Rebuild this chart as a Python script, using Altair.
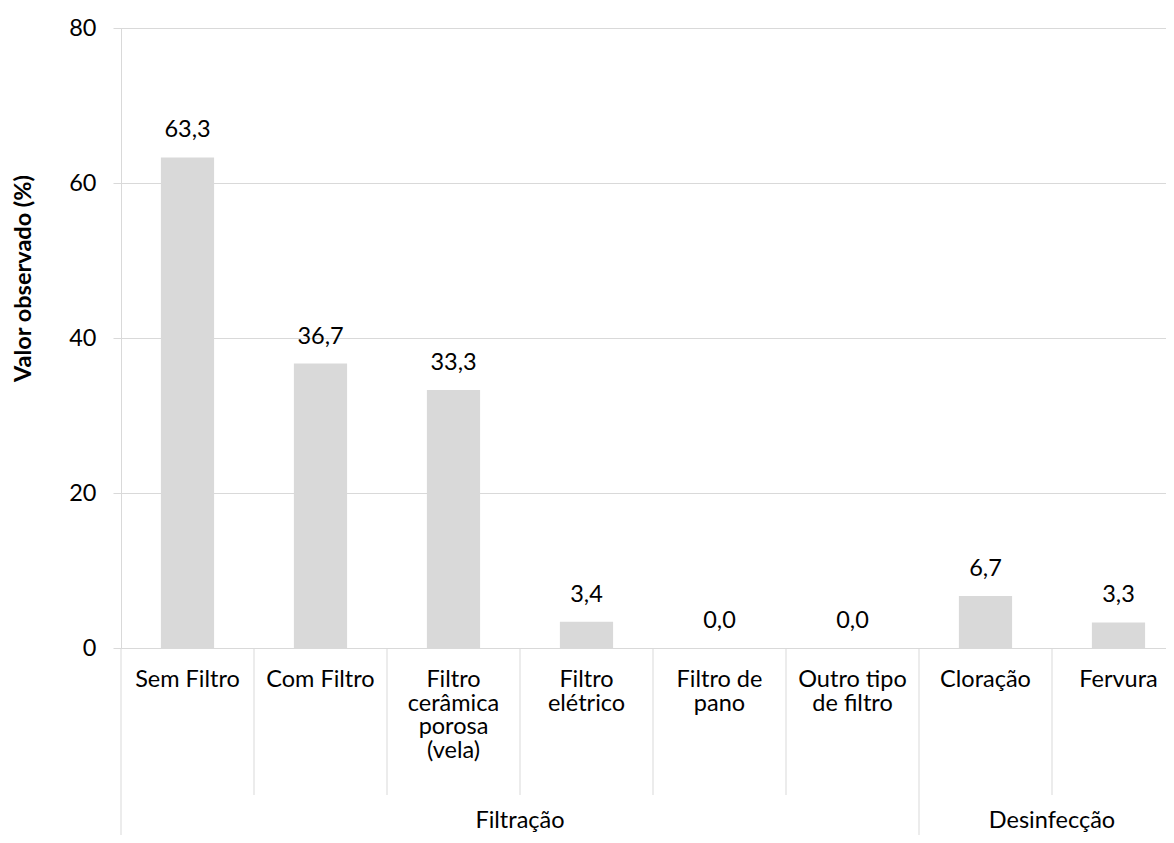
import altair as alt
import pandas as pd

# ---- data ----
categories = [
    "Sem Filtro",
    "Com Filtro",
    "Filtro\ncerâmica\nporosa\n(vela)",
    "Filtro\nelétrico",
    "Filtro de\npano",
    "Outro tipo\nde filtro",
    "Cloração",
    "Fervura",
]
values = [63.3, 36.7, 33.3, 3.4, 0.0, 0.0, 6.7, 3.3]
groups = ["Filtração"] * 6 + ["Desinfecção"] * 2
y_ticks = [0, 20, 40, 60, 80]

FONT = "Lato"
FS = 23.5
GRID = "#d9d9d9"
TXT = "#000000"
N = len(categories)

df = pd.DataFrame({"cat": categories, "val": values, "idx": list(range(N))})

# separators between categories (within groups short, group boundaries long)
boundaries = [0] + [i for i in range(1, N) if groups[i] != groups[i - 1]] + [N]
short_pos = [i for i in range(1, N) if i not in boundaries]
df_short = pd.DataFrame({"pos": short_pos})
df_long = pd.DataFrame({"pos": boundaries})

grp_names, grp_mid = [], []
for a, b in zip(boundaries[:-1], boundaries[1:]):
    grp_names.append(groups[a])
    grp_mid.append((a + b) / 2)
df_grp = pd.DataFrame({"grp": grp_names, "mid": grp_mid})

band = alt.Scale(paddingInner=0.6, paddingOuter=0.3)
quant = alt.Scale(domain=[0, N], nice=False, zero=False)
xcat = alt.X("cat:N", sort=categories, scale=band, axis=None)

yaxis = alt.Axis(
    values=y_ticks,
    grid=True,
    gridColor=GRID,
    gridWidth=1,
    tickColor=GRID,
    tickSize=8,
    domainColor=GRID,
    labelFont=FONT,
    labelFontSize=FS,
    labelColor=TXT,
    labelPadding=17,
    title="Valor observado (%)",
    titleFont=FONT,
    titleFontSize=FS,
    titleFontWeight="bold",
    titleColor=TXT,
    titleAngle=270,
    titleAlign="center",
    titleBaseline="middle",
    titleX=-98,
    titleY=250,
)
yenc = alt.Y("val:Q", scale=alt.Scale(domain=[0, 80], nice=False), axis=yaxis)

bars = alt.Chart(df).mark_bar(color=GRID).encode(x=xcat, y=yenc)

vlabels = (
    alt.Chart(df)
    .transform_calculate(lab="replace(format(datum.val, '.1f'), '.', ',')")
    .mark_text(font=FONT, fontSize=FS, color=TXT, baseline="alphabetic", dy=-20)
    .encode(x=xcat, y=alt.Y("val:Q"), text="lab:N")
)

catlabels = (
    alt.Chart(df)
    .mark_text(font=FONT, fontSize=FS, color=TXT, baseline="top",
               lineBreak="\n", lineHeight=23.5, align="center")
    .encode(x=xcat, y=alt.value(640), text="cat:N")
)

short_rules = (
    alt.Chart(df_short)
    .mark_rule(color=GRID, strokeWidth=1)
    .encode(x=alt.X("pos:Q", scale=quant, axis=None), y=alt.value(620), y2=alt.value(767))
)

long_rules = (
    alt.Chart(df_long)
    .mark_rule(color=GRID, strokeWidth=1)
    .encode(x=alt.X("pos:Q", scale=quant, axis=None), y=alt.value(620), y2=alt.value(807))
)

grplabels = (
    alt.Chart(df_grp)
    .mark_text(font=FONT, fontSize=FS, color=TXT, baseline="alphabetic", align="center")
    .encode(x=alt.X("mid:Q", scale=quant, axis=None), y=alt.value(800), text="grp:N")
)

chart = (
    alt.layer(bars, vlabels, catlabels, short_rules, long_rules, grplabels)
    .resolve_scale(x="independent")
    .properties(
        width=1064,
        height=620,
        autosize=alt.AutoSizeParams(type="none"),
        padding={"left": 113, "top": 20, "right": -19, "bottom": 187},
    )
    .configure_view(stroke=None)
    .configure(background="white")
)

chart.save("out.html", embed_options={"renderer": "svg", "actions": False})
